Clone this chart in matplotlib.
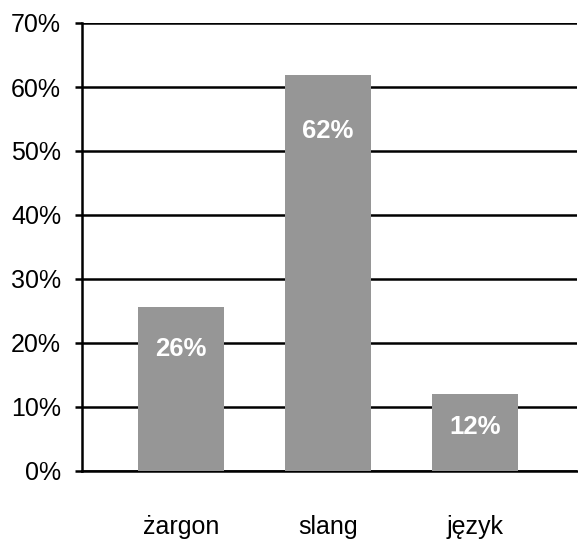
import matplotlib.pyplot as plt
import numpy as np

# dane
categories = ["żargon", "slang", "język"]
values = [25.6, 61.9, 12.0]
labels = ["26%", "62%", "12%"]
label_y = [19.0, 53.1, 6.9]   # położenie podpisów na słupkach
yticks = [0, 10, 20, 30, 40, 50, 60, 70]

plt.rcParams['font.family'] = ['Liberation Sans', 'DejaVu Sans']

fig = plt.figure(figsize=(5.78, 5.40), dpi=100)
ax = fig.add_axes([82 / 578, 69 / 540, 495 / 578, 448 / 540])

x = np.arange(len(categories))
ax.bar(x, values, width=0.585, color='#969696', zorder=3)

for xi, txt, yl in zip(x, labels, label_y):
    ax.text(xi, yl, txt, ha='center', va='center', color='white',
            fontsize=18.5, fontweight='bold', zorder=4)

ax.set_ylim(0, 70)
ax.set_xlim(-0.673, 2.693)
ax.set_yticks(yticks)
ax.set_yticklabels([f"{t}%" for t in yticks])
ax.set_xticks(x)
ax.set_xticklabels(categories)

ax.yaxis.grid(True, color='black', linewidth=1.8, zorder=1)
ax.set_axisbelow(True)

for s in ['top', 'right']:
    ax.spines[s].set_visible(False)
ax.spines['left'].set_linewidth(1.8)
ax.spines['bottom'].set_linewidth(1.8)

ax.tick_params(axis='y', length=5, width=1.8, labelsize=18, pad=10)
ax.tick_params(axis='x', length=0, labelsize=18, pad=32)

fig.savefig("out.png", dpi=100)
